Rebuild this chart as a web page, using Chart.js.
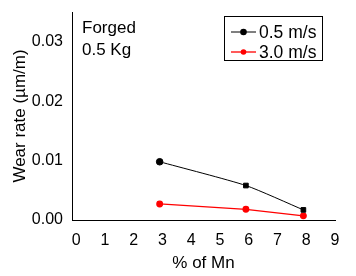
<!DOCTYPE html>
<html lang="en">
<head>
    <meta charset="UTF-8">
    <title>wear rate</title>
    <style type="text/css">
        body{ margin: 0; background: #fff; }
        .chartbox{ width: 356px; height: 276px; }
    </style>
    <script src="https://cdn.jsdelivr.net/npm/chart.js@4.4.0/dist/chart.umd.min.js"></script>
</head>
<body>
    <div class="chartbox">
        <canvas id="myChart" width="356" height="276"></canvas>
    </div>
    <script>
    // data
    const mnPercent = [2.9, 5.9, 7.9];
    const wearSlow = [0.0098, 0.0058, 0.0017];   // 0.5 m/s
    const wearFast = [0.0027, 0.0018, 0.0007];   // 3.0 m/s
    const seriesNames = ['0.5 m/s', '3.0 m/s'];
    const xTicks = [0, 1, 2, 3, 4, 5, 6, 7, 8, 9];
    const yTicks = [0, 0.01, 0.02, 0.03];
    const noteLines = ['Forged', '0.5 Kg'];

    const font = 'Arial, "Liberation Sans", sans-serif';

    const toPoints = (xs, ys) => xs.map((x, i) => ({ x: x, y: ys[i] }));

    //setup block
    const data = {
        datasets: [{
            label: seriesNames[0],
            data: toPoints(mnPercent, wearSlow),
            borderColor: '#000',
            backgroundColor: '#000',
            borderWidth: 1,
            pointStyle: ['circle', 'rect', 'rect'],
            pointRadius: 3.3,
            tension: 0.2
        }, {
            label: seriesNames[1],
            data: toPoints(mnPercent, wearFast),
            borderColor: '#f00',
            backgroundColor: '#f00',
            borderWidth: 1.3,
            pointStyle: 'circle',
            pointRadius: 2.8,
            tension: 0
        }]
    };

    // legend box + note drawn inside the plot
    const extras = {
        id: 'extras',
        afterDraw(chart) {
            const ctx = chart.ctx;
            ctx.save();
            ctx.font = '17px ' + font;
            ctx.fillStyle = '#000';
            ctx.textBaseline = 'middle';
            ctx.textAlign = 'left';
            ctx.fillText(noteLines[0], 82, 28);
            ctx.fillText(noteLines[1], 82, 50);

            ctx.strokeStyle = '#000';
            ctx.lineWidth = 1;
            ctx.strokeRect(224.5, 16.5, 98, 44);
            ctx.font = '17.5px ' + font;
            chart.data.datasets.forEach((ds, i) => {
                const y = 32 + i * 20;
                ctx.strokeStyle = ds.borderColor;
                ctx.lineWidth = ds.borderWidth;
                ctx.beginPath();
                ctx.moveTo(231, y);
                ctx.lineTo(256, y);
                ctx.stroke();
                ctx.fillStyle = ds.backgroundColor;
                ctx.beginPath();
                ctx.arc(243.5, y, ds.pointRadius, 0, Math.PI * 2);
                ctx.fill();
                ctx.fillStyle = '#000';
                ctx.fillText(ds.label, 259, y + 1);
            });
            ctx.restore();
        }
    };

    //config block
    const config = {
        type: 'line',
        data,
        options: {
            responsive: false,
            animation: false,
            layout: { padding: { top: 12, right: 21, left: 0, bottom: 0 } },
            plugins: { legend: { display: false }, tooltip: { enabled: false } },
            scales: {
                x: {
                    type: 'linear',
                    min: -0.15,
                    max: 9,
                    grid: { display: false },
                    border: { color: '#000', width: 1 },
                    afterBuildTicks: s => { s.ticks = xTicks.map(v => ({ value: v })); },
                    afterFit: s => { s.height = 56; },
                    ticks: { color: '#000', font: { family: font, size: 16 }, padding: 3, maxRotation: 0 },
                    title: { display: true, text: '% of Mn', color: '#000', font: { family: font, size: 17 }, padding: { top: 0, bottom: 2 } }
                },
                y: {
                    min: 0,
                    max: 0.035,
                    grid: { display: false },
                    border: { color: '#000', width: 1 },
                    afterBuildTicks: s => { s.ticks = yTicks.map(v => ({ value: v })); },
                    afterFit: s => { s.width = 72; },
                    ticks: { color: '#000', font: { family: font, size: 16 }, padding: 1,
                        callback: v => v.toFixed(2) },
                    title: { display: true, text: 'Wear rate (µm/m)', color: '#000', font: { family: font, size: 17 }, padding: { top: 10, bottom: 0 } }
                }
            }
        },
        plugins: [extras]
    };

    //render init block
    const myChart = new Chart(document.getElementById('myChart'), config);
    </script>
</body>
</html>
